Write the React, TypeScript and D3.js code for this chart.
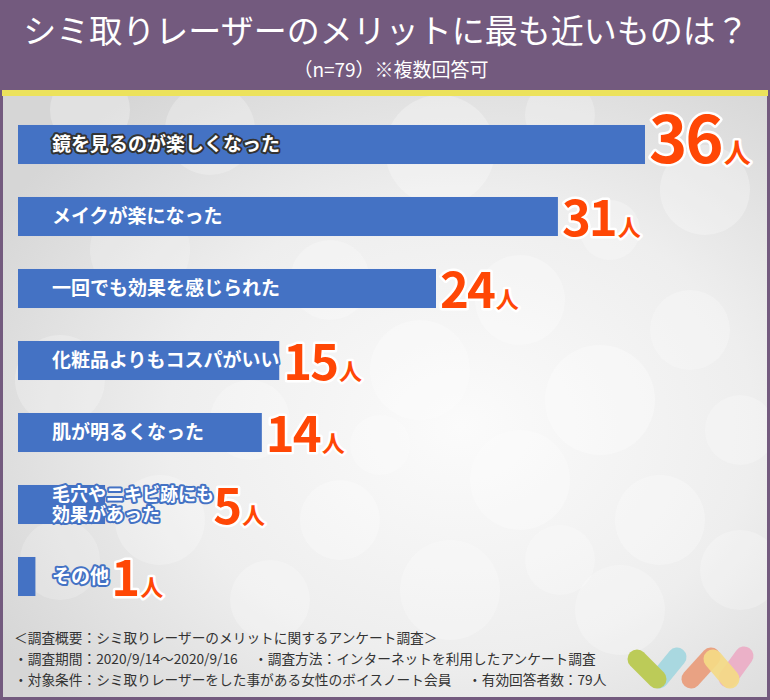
import React from "react";
import * as d3 from "d3";

const categories = [
  "鏡を見るのが楽しくなった",
  "メイクが楽になった",
  "一回でも効果を感じられた",
  "化粧品よりもコスパがいい",
  "肌が明るくなった",
  "毛穴やニキビ跡にも\n効果があった",
  "その他",
];
const values = [36, 31, 24, 15, 14, 5, 1];
const unit = "人";
const titleText = "シミ取りレーザーのメリットに最も近いものは？";
const subtitleText = "（n=79）※複数回答可";
const footerLines = [
  ["＜調査概要：シミ取りレーザーのメリットに関するアンケート調査＞"],
  ["・調査期間：2020/9/14～2020/9/16", "・調査方法：インターネットを利用したアンケート調査"],
  ["・対象条件：シミ取りレーザーをした事がある女性のボイスノート会員", "・有効回答者数：79人"],
];

const W = 770;
const H = 700;
const PURPLE = "#735a7e";
const BAR = "#4472c4";
const ORANGE = "#ff4705";
const JP = "'Noto Sans CJK JP', 'Noto Sans', sans-serif";

const bokeh = [
  [90, 110, 40, 0.35], [210, 130, 45, 0.3], [440, 150, 55, 0.35], [560, 115, 35, 0.3],
  [705, 190, 45, 0.35], [610, 230, 30, 0.3], [140, 250, 50, 0.25], [330, 280, 40, 0.3],
  [520, 300, 45, 0.35], [690, 330, 40, 0.3], [60, 380, 45, 0.3], [420, 370, 50, 0.35],
  [600, 400, 55, 0.4], [740, 430, 35, 0.3], [250, 420, 40, 0.3], [160, 520, 45, 0.3],
  [340, 520, 40, 0.35], [520, 480, 50, 0.35], [660, 520, 45, 0.35], [450, 590, 50, 0.3],
  [270, 600, 40, 0.3], [620, 610, 45, 0.3], [60, 560, 40, 0.25], [740, 570, 40, 0.3],
  [380, 445, 30, 0.3], [560, 560, 35, 0.3],
];

export default function App() {
  const x = d3.scaleLinear().domain([0, 36]).range([18, 645]);
  const y = d3
    .scaleBand<string>()
    .domain(categories)
    .range([108.5, 612.5])
    .paddingInner(0.458)
    .paddingOuter(0.229);
  const bw = y.bandwidth();
  const labelX = 52;

  return (
    <svg width={W} height={H} viewBox={`0 0 ${W} ${H}`} style={{ display: "block", position: "absolute", left: 0, top: 0 }}>
      <defs>
        <radialGradient id="bg" cx="0.6" cy="0.55" r="0.7">
          <stop offset="0" stopColor="#fbfbfb" />
          <stop offset="0.55" stopColor="#eeeeee" />
          <stop offset="1" stopColor="#d6d6d6" />
        </radialGradient>
        <clipPath id="panel">
          <rect x={3} y={96} width={764} height={601} />
        </clipPath>
      </defs>
      <rect x={0} y={0} width={W} height={H} fill={PURPLE} />
      <rect x={3} y={96} width={764} height={601} fill="url(#bg)" />
      <g clipPath="url(#panel)">
        {bokeh.map(([cx, cy, r, o], i) => (
          <circle key={i} cx={cx} cy={cy} r={r} fill="#ffffff" opacity={o * 0.8} />
        ))}
      </g>
      <rect x={2} y={90} width={766} height={6} fill="#ece25c" />

      <text x={386} y={43} textAnchor="middle" fill="#ffffff" fontFamily={JP} fontSize={33} fontWeight={400}>
        {titleText}
      </text>
      <text x={391} y={77} textAnchor="middle" fill="#ffffff" fontFamily={JP} fontSize={19} fontWeight={400}>
        {subtitleText}
      </text>

      {categories.map((c, i) => {
        const v = values[i];
        const top = y(c)!;
        const cy = top + bw / 2;
        const lines = c.split("\n");
        const fs = lines.length > 1 ? 18 : 19;
        const labelW = d3.max(lines, (l) => l.length)! * fs * 0.97;
        const vx = Math.max(x(v), labelX + labelW) + 4;
        const big = i === 0;
        const numFs = big ? 65 : 49;
        const unitFs = big ? 27 : 23;
        const base = cy + (big ? 18.5 : 19.5);
        return (
          <g key={c}>
            <rect x={x(0)} y={top} width={x(v) - x(0)} height={bw} fill={BAR} />
            <text
              fontFamily={JP}
              fontWeight={700}
              fontSize={fs}
              fill="#ffffff"
              stroke={i === 0 ? "#333333" : BAR}
              strokeWidth={4}
              strokeLinejoin="round"
              paintOrder="stroke"
            >
              {lines.map((l, k) => (
                <tspan key={k} x={labelX} y={cy + 6.5 + (k - (lines.length - 1) / 2) * 20}>
                  {l}
                </tspan>
              ))}
            </text>
            <text
              x={vx}
              y={base}
              fontFamily={JP}
              fontWeight={700}
              fill={ORANGE}
              stroke="#ffffff"
              strokeWidth={5}
              strokeLinejoin="round"
              paintOrder="stroke"
            >
              <tspan fontSize={numFs} letterSpacing={-2}>{String(v)}</tspan>
              <tspan fontSize={unitFs} dx={2}>{unit}</tspan>
            </text>
          </g>
        );
      })}

      {footerLines.map((parts, i) => (
        <g key={i}>
          {parts.map((p, k) => (
            <text
              key={k}
              x={k === 0 ? 14 : i === 1 ? 254 : 468}
              y={643 + i * 21}
              fontFamily={JP}
              fontSize={13.7}
              fill="#333333"
            >
              {p}
            </text>
          ))}
        </g>
      ))}

      <g strokeLinecap="round" strokeWidth={19} fill="none">
        <line x1={677} y1={657} x2={659} y2={679} stroke="#a9d8e0" />
        <line x1={637} y1={659} x2={657} y2={679} stroke="#bccb58" />
        <line x1={744} y1={656} x2={728} y2={678} stroke="#ebb1c8" />
        <line x1={711} y1={657} x2={691} y2={679} stroke="#e9a283" />
        <line x1={713} y1={659} x2={730} y2={679} stroke="#f4da85" opacity={0.92} />
      </g>
    </svg>
  );
}
